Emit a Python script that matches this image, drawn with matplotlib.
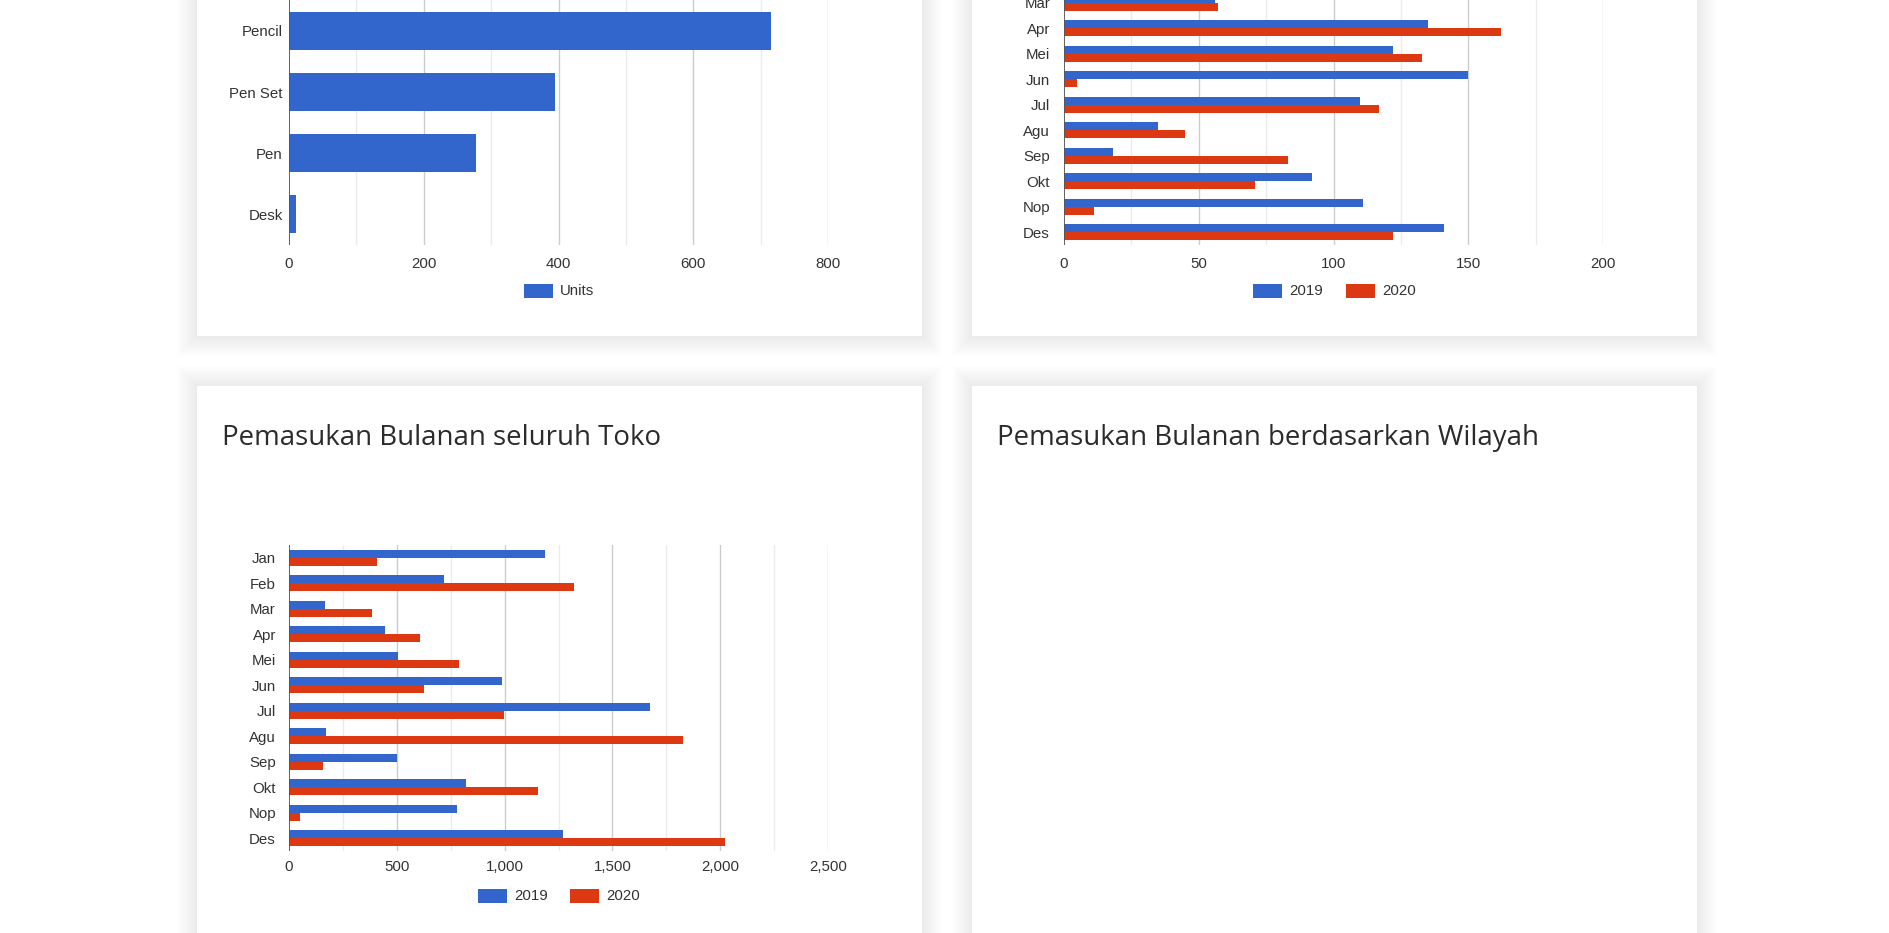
import matplotlib
matplotlib.use('Agg')
import matplotlib.pyplot as plt
from matplotlib.patches import Rectangle
import numpy as np

W, H = 1890, 933
DPI = 100

# ---------------- data ----------------
products = ['Binder', 'Pencil', 'Pen Set', 'Pen', 'Desk']
units = [722, 716, 395, 278, 10]

months = ['Jan', 'Feb', 'Mar', 'Apr', 'Mei', 'Jun', 'Jul', 'Agu', 'Sep', 'Okt', 'Nop', 'Des']
units_2019 = [95, 62, 56, 135, 122, 150, 110, 35, 18, 92, 111, 141]
units_2020 = [48, 118, 57, 162, 133, 5, 117, 45, 83, 71, 11, 122]
income_2019 = [1187, 718, 169, 444, 507, 986, 1676, 173, 502, 822, 777, 1270]
income_2020 = [410, 1322, 387, 608, 788, 626, 998, 1827, 160, 1153, 50, 2020]

units_ticks = [0, 200, 400, 600, 800]
month_units_ticks = [0, 50, 100, 150, 200]
income_ticks = [0, 500, 1000, 1500, 2000, 2500]

series_names = ['2019', '2020']
title_income_all = 'Pemasukan Bulanan seluruh Toko'
title_income_region = 'Pemasukan Bulanan berdasarkan Wilayah'

BLUE = '#3366CC'
RED = '#DC3912'
LABEL_FONT = 'Liberation Sans'
LABEL_SIZE = 10.8
TEXT_COLOR = '#333333'

fig = plt.figure(figsize=(W / DPI, H / DPI), dpi=DPI)
fig.patch.set_facecolor('white')

bg = fig.add_axes([0, 0, 1, 1])
bg.set_xlim(0, W)
bg.set_ylim(H, 0)
bg.axis('off')
bg.set_zorder(0)


def card(x0, y0, x1, y1):
    n = 20
    for i in range(n, 0, -1):
        bg.add_patch(Rectangle((x0 - i, y0 - i), x1 - x0 + 2 * i, y1 - y0 + 2 * i,
                               facecolor='black', alpha=0.0023, lw=0))
    bg.add_patch(Rectangle((x0, y0), x1 - x0, y1 - y0, facecolor='white', lw=0))


card(197, -100, 922, 336)
card(972, -100, 1697, 336)
card(197, 386, 922, 1100)
card(972, 386, 1697, 1100)


def px_axes(l, t, r, b):
    ax = fig.add_axes([l / W, 1 - b / H, (r - l) / W, (b - t) / H])
    ax.set_zorder(2)
    return ax


def style(ax, ticks, minor_step, ypad_px, xpad_px):
    xmax = ticks[-1]
    ax.set_facecolor('none')
    ax.set_xlim(0, xmax)
    for s in ax.spines.values():
        s.set_visible(False)
    ax.set_xticks(ticks)
    ax.set_xticklabels(['{:,}'.format(v) for v in ticks])
    for v in np.arange(minor_step, xmax + 1e-9, minor_step):
        if v not in ticks:
            ax.axvline(v, color='#ebebeb', lw=1, zorder=0)
    for v in ticks[1:]:
        ax.axvline(v, color='#cccccc', lw=1, zorder=0)
    ax.axvline(0, color='#555555', lw=1.3, zorder=3)
    ax.tick_params(axis='both', length=0, labelsize=LABEL_SIZE, colors=TEXT_COLOR)
    ax.tick_params(axis='y', pad=ypad_px * 72 / DPI)
    ax.tick_params(axis='x', pad=xpad_px * 72 / DPI)
    for lab in ax.get_xticklabels() + ax.get_yticklabels():
        lab.set_fontfamily(LABEL_FONT)


# ---- top-left: units per product ----
ax1 = px_axes(289, -61, 828, 245)
y1 = np.arange(len(products))
ax1.barh(y1, units, height=0.618, color=BLUE, zorder=2)
ax1.set_yticks(y1)
ax1.set_yticklabels(products)
ax1.set_ylim(len(products) - 0.5, -0.5)
style(ax1, units_ticks, 100, 6, 12)

# ---- top-right: units per month ----
ax2 = px_axes(1064, -61, 1603, 245)
ym = np.arange(len(months))
bw = 0.309
ax2.barh(ym - bw / 2, units_2019, height=bw, color=BLUE, zorder=2)
ax2.barh(ym + bw / 2, units_2020, height=bw, color=RED, zorder=2)
ax2.set_yticks(ym)
ax2.set_yticklabels(months)
ax2.set_ylim(len(months) - 0.5, -0.5)
style(ax2, month_units_ticks, 25, 14, 12)

# ---- bottom-left: income per month ----
ax3 = px_axes(289, 545, 828, 851)
ax3.barh(ym - bw / 2, income_2019, height=bw, color=BLUE, zorder=2)
ax3.barh(ym + bw / 2, income_2020, height=bw, color=RED, zorder=2)
ax3.set_yticks(ym)
ax3.set_yticklabels(months)
ax3.set_ylim(len(months) - 0.5, -0.5)
style(ax3, income_ticks, 250, 13, 9)


# ---- legends ----
def legend_item(x, y, color, label):
    bg.add_patch(Rectangle((x, y - 7), 29, 14, facecolor=color, lw=0))
    bg.text(x + 36, y, label, fontsize=LABEL_SIZE, family=LABEL_FONT, color=TEXT_COLOR,
            va='center', ha='left')


legend_item(524, 291, BLUE, 'Units')
legend_item(1253, 291, BLUE, series_names[0])
legend_item(1346, 291, RED, series_names[1])
legend_item(478, 896, BLUE, series_names[0])
legend_item(570, 896, RED, series_names[1])

# ---- titles ----
TITLE_FONT = 'Open Sans'
t1 = bg.text(222, 445, title_income_all, fontsize=20, family=TITLE_FONT,
             color='#2b2b2b', va='baseline', ha='left')
fig.canvas.draw()
w = t1.get_window_extent().width
fs = 20 * 438 / w
t1.set_fontsize(fs)
bg.text(997, 445, title_income_region, fontsize=fs, family=TITLE_FONT,
        color='#2b2b2b', va='baseline', ha='left')

fig.savefig('out.png', dpi=DPI)
